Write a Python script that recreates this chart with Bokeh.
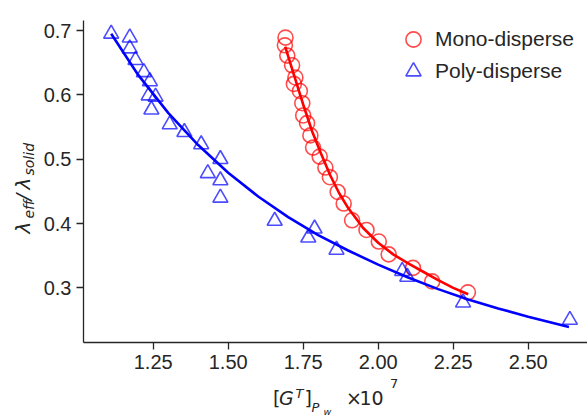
import math
from bokeh.plotting import figure
from bokeh.models import Legend, LegendItem, FixedTicker, Range1d
from bokeh.layouts import row, column
from bokeh.core.properties import value
from bokeh.embed import file_html
from bokeh.resources import INLINE

# ---------------- data ----------------
mono_x = [1.691, 1.689, 1.697, 1.713, 1.724, 1.719, 1.739, 1.747, 1.750, 1.763,
          1.774, 1.783, 1.805, 1.824, 1.839, 1.865, 1.885, 1.913, 1.961, 2.002,
          2.035, 2.116, 2.180, 2.299]
mono_y = [0.689, 0.677, 0.661, 0.646, 0.627, 0.617, 0.606, 0.587, 0.568, 0.556,
          0.537, 0.518, 0.504, 0.487, 0.472, 0.449, 0.431, 0.405, 0.390, 0.372,
          0.352, 0.331, 0.310, 0.293]

poly_x = [1.110, 1.172, 1.172, 1.191, 1.219, 1.239, 1.235, 1.258, 1.244, 1.305,
          1.354, 1.410, 1.474, 1.432, 1.474, 1.474, 1.655, 1.767, 1.788, 1.861,
          2.080, 2.097, 2.283, 2.639]
poly_y = [0.695, 0.689, 0.672, 0.654, 0.635, 0.621, 0.599, 0.597, 0.577, 0.554,
          0.542, 0.523, 0.500, 0.478, 0.467, 0.440, 0.404, 0.378, 0.392, 0.359,
          0.326, 0.317, 0.277, 0.250]

mono_fit_x = [1.690, 1.720, 1.750, 1.780, 1.810, 1.840, 1.870, 1.900, 1.950, 2.000,
              2.050, 2.100, 2.150, 2.200, 2.250, 2.300]
mono_fit_y = [0.675, 0.630, 0.585, 0.543, 0.508, 0.475, 0.447, 0.424, 0.393, 0.370,
              0.352, 0.338, 0.325, 0.312, 0.300, 0.290]

poly_fit_x = [1.110, 1.200, 1.300, 1.400, 1.500, 1.600, 1.700, 1.800, 1.900, 2.000,
              2.100, 2.200, 2.300, 2.400, 2.500, 2.636]
poly_fit_y = [0.695, 0.631, 0.572, 0.522, 0.479, 0.442, 0.410, 0.382, 0.358, 0.336,
              0.316, 0.298, 0.282, 0.268, 0.255, 0.239]

x_ticks = [1.25, 1.50, 1.75, 2.00, 2.25, 2.50]
x_tick_labels = ["1.25", "1.50", "1.75", "2.00", "2.25", "2.50"]
y_ticks = [0.3, 0.4, 0.5, 0.6, 0.7]
y_tick_labels = ["0.3", "0.4", "0.5", "0.6", "0.7"]

series_names = ["Mono-disperse", "Poly-disperse"]

# ---------------- layout (page pixels) ----------------
LEFT_W = 40          # strip holding the y title
TOTAL_W, TOTAL_H = 587, 416
MAIN_W = TOTAL_W - LEFT_W
MAIN_H = 377
BL, BR, BT, BB = 43, 0, 20, 35
XS, XE = 1.0177, 2.6977
YS, YE = 0.2150, 0.7156

DARK = "#262626"
RED = "#ff0000"
BLUE = "#0000ff"

p = figure(width=MAIN_W, height=MAIN_H, output_backend="svg", toolbar_location=None,
           title=None,
           x_range=Range1d(XS, XE), y_range=Range1d(YS, YE),
           min_border_left=BL, min_border_right=BR, min_border_top=BT,
           min_border_bottom=BB)
p.outline_line_color = None
p.xgrid.visible = False
p.ygrid.visible = False
p.background_fill_color = "white"
p.border_fill_color = "white"

for ax in (p.xaxis[0], p.yaxis[0]):
    ax.axis_line_color = DARK
    ax.axis_line_width = 1.3
    ax.major_tick_line_color = DARK
    ax.major_tick_line_width = 1.3
    ax.major_tick_in = 0
    ax.major_tick_out = 7
    ax.minor_tick_line_color = None
    ax.major_label_text_font = "Liberation Sans"
    ax.major_label_text_font_size = "20px"
    ax.major_label_text_color = DARK

p.xaxis[0].ticker = FixedTicker(ticks=x_ticks)
p.xaxis[0].major_label_overrides = dict(zip(x_ticks, x_tick_labels))
p.xaxis[0].major_label_standoff = 5
p.yaxis[0].ticker = FixedTicker(ticks=y_ticks)
p.yaxis[0].major_label_overrides = dict(zip(y_ticks, y_tick_labels))
p.yaxis[0].major_label_standoff = 5

r_mono = p.scatter(mono_x, mono_y, marker="circle", size=15, fill_color=None,
                   line_color=RED, line_alpha=0.7, line_width=1.6)
r_poly = p.scatter(poly_x, poly_y, marker="triangle", size=15, fill_color=None,
                   line_color=BLUE, line_alpha=0.7, line_width=1.6)
p.line(mono_fit_x, mono_fit_y, line_color=RED, line_width=2.6)
p.line(poly_fit_x, poly_fit_y, line_color=BLUE, line_width=2.6)

def make_legend(name, rend, loc):
    return Legend(items=[LegendItem(label=name, renderers=[rend])],
                  location=loc, orientation="vertical",
                  glyph_width=38, glyph_height=38, label_height=38, spacing=0,
                  label_standoff=3, padding=0, margin=0,
                  border_line_color=None, background_fill_alpha=0,
                  label_text_font="Liberation Sans", label_text_font_size="21px",
                  label_text_color=DARK)

p.add_layout(make_legend(series_names[0], r_mono, (311, 284)))
p.add_layout(make_legend(series_names[1], r_poly, (311, 252)))

# ---------------- title strips (composed math-like text) ----------------
def strip(w, h, x0, x1, ytop, ybot):
    f = figure(width=w, height=h, output_backend="svg", toolbar_location=None,
               title=None,
               x_range=Range1d(x0, x1), y_range=Range1d(ybot, ytop),
               min_border=0, x_axis_location=None, y_axis_location=None)
    f.outline_line_color = None
    f.grid.visible = False
    f.background_fill_color = "white"
    f.border_fill_color = "white"
    return f

fy = strip(LEFT_W, TOTAL_H, 0, LEFT_W, 0, TOTAL_H)
# the bottom strip's frame is aligned by the column with the main frame
fx = strip(MAIN_W, TOTAL_H - MAIN_H, LEFT_W + BL, TOTAL_W - BR, MAIN_H, TOTAL_H)

MID = 0.35  # offset from baseline to the text's vertical middle, in font sizes

def txt(fig, s, px, py, size, italic=False, angle=0.0):
    # (px, py) is the start of the baseline; the glyph is anchored on its middle
    if angle == 0.0:
        ax, ay = px, py - MID * size
    else:
        ax, ay = px - MID * size, py
    fig.text(x=[ax], y=[ay], text=[s], angle=angle,
             text_font=value("DejaVu Sans"), text_font_size=f"{size}px",
             text_font_style="italic" if italic else "normal",
             text_color=DARK, text_align="left", text_baseline="middle")

# x title: [G^T]_{P_w} x10^7
txt(fx, "[", 272.5, 404.3, 19)
txt(fx, "G", 278.5, 404.3, 19, italic=True)
txt(fx, "T", 295.0, 397.5, 13, italic=True)
txt(fx, "]", 304.0, 404.3, 19)
txt(fx, "P", 311.0, 412.0, 13, italic=True)
txt(fx, "w", 323.0, 414.5, 9.5, italic=True)
txt(fx, "\u00d7", 345.5, 404.3, 19)
txt(fx, "10", 359.0, 404.3, 19)
txt(fx, "7", 389.5, 387.5, 13)

# y title: lambda_eff / lambda_solid (rotated)
A = math.pi / 2
txt(fy, "\u03bb", 29.5, 233.0, 20, italic=True, angle=A)
txt(fy, "eff", 33.0, 218.0, 14, italic=True, angle=A)
txt(fy, "/", 29.5, 200.0, 20, italic=True, angle=A)
txt(fy, "\u03bb", 29.5, 189.0, 20, italic=True, angle=A)
txt(fy, "solid", 33.0, 175.0, 14, italic=True, angle=A)

layout = row(fy, column(p, fx))
open("out.html", "w").write(file_html(layout, INLINE))
